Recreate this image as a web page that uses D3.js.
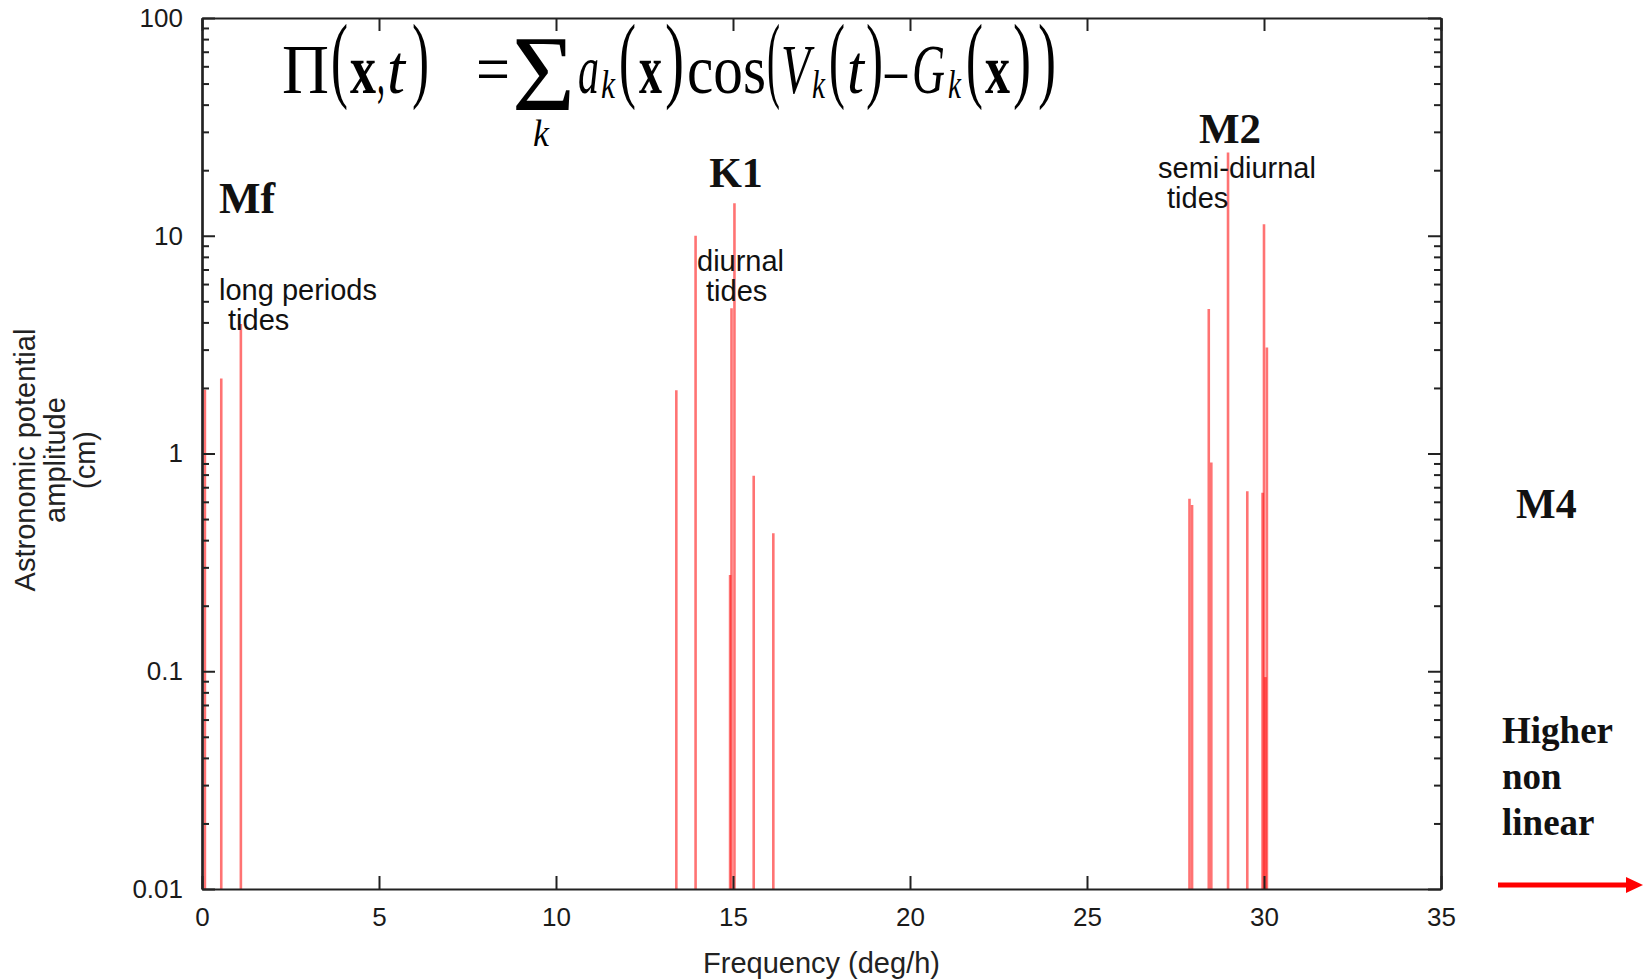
<!DOCTYPE html>
<html>
<head>
<meta charset="utf-8">
<script src="https://cdn.jsdelivr.net/npm/d3@7"></script>
<style>
  html, body { margin: 0; padding: 0; background: #fff; }
  svg { display: block; }
</style>
</head>
<body>
<svg id="chart" width="1651" height="979"></svg>
<script>
// ---------------- data ----------------
const constituents = ["Ssa","Mm","Mf","Q1","O1","π1","P1","K1","J1","OO1","2N2","μ2","N2","ν2","M2","L2","T2","S2","R2","K2"];
const frequencies  = [0.082, 0.544, 1.098, 13.399, 13.943, 14.918, 14.958, 15.041, 15.585, 16.139,
                      27.895, 27.968, 28.440, 28.512, 28.984, 29.528, 29.959, 30.000, 30.041, 30.082];
const amplitudes   = [1.96, 2.21, 3.93, 1.95, 10.0, 0.277, 4.64, 14.1, 0.79, 0.43,
                      0.62, 0.58, 4.61, 0.91, 24.1, 0.67, 0.66, 11.3, 0.094, 3.07];
const xTicks = [0, 5, 10, 15, 20, 25, 30, 35];
const yTicks = [0.01, 0.1, 1, 10, 100];
const yTickLabels = ["0.01", "0.1", "1", "10", "100"];
const xDomain = [0, 35];
const yDomain = [0.01, 100];

// ---------------- setup ----------------
const svg = d3.select("#chart");
const L = 202, R = 1441, T = 18, B = 889;
const x = d3.scaleLinear().domain(xDomain).range([L, R]);
const y = d3.scaleLog().domain(yDomain).range([B, T]);
const sans = "'Liberation Sans', Arial, Helvetica, sans-serif";
const serif = "'Liberation Serif', 'Times New Roman', serif";
const axisColor = "#222";

// minor ticks for log axis
const minor = [];
for (let d = 0.01; d < 100; d *= 10) for (let m = 2; m <= 9; m++) minor.push(+(d * m).toPrecision(3));

// ---------------- bars (impulses) ----------------
const data = frequencies.map((f, i) => ({ name: constituents[i], f, a: amplitudes[i] }));
svg.append("g").selectAll("line").data(data).join("line")
  .attr("x1", d => x(d.f)).attr("x2", d => x(d.f))
  .attr("y1", y(yDomain[0])).attr("y2", d => y(d.a))
  .attr("stroke", "#ff0000").attr("stroke-opacity", 0.55).attr("stroke-width", 2.6);

// ---------------- axes ----------------
function styleAxis(g) {
  g.selectAll("path.domain").attr("stroke", axisColor).attr("stroke-width", 2.2);
  g.selectAll(".tick line").attr("stroke", axisColor).attr("stroke-width", 2);
  g.selectAll(".tick text").attr("fill", "#1a1a1a").style("font-family", sans).style("font-size", "26px");
}
svg.append("g").attr("transform", `translate(0,${B})`)
  .call(d3.axisBottom(x).tickValues(xTicks).tickSize(-13).tickSizeOuter(0).tickPadding(19).tickFormat(d3.format("d")))
  .call(styleAxis);
svg.append("g").attr("transform", `translate(0,${T})`)
  .call(d3.axisTop(x).tickValues(xTicks).tickSize(-13).tickSizeOuter(0).tickFormat(""))
  .call(styleAxis);
svg.append("g").attr("transform", `translate(${L},0)`)
  .call(d3.axisLeft(y).tickValues(yTicks).tickSize(-13).tickSizeOuter(0).tickPadding(19)
    .tickFormat((d, i) => yTickLabels[i]))
  .call(styleAxis);
svg.append("g").attr("transform", `translate(${L},0)`)
  .call(d3.axisLeft(y).tickValues(minor).tickSize(-7).tickSizeOuter(0).tickFormat(""))
  .call(styleAxis);
svg.append("g").attr("transform", `translate(${R},0)`)
  .call(d3.axisRight(y).tickValues(yTicks).tickSize(-13).tickSizeOuter(0).tickFormat(""))
  .call(styleAxis);
svg.append("g").attr("transform", `translate(${R},0)`)
  .call(d3.axisRight(y).tickValues(minor).tickSize(-7).tickSizeOuter(0).tickFormat(""))
  .call(styleAxis);

// axis titles
svg.append("text").attr("x", (L + R) / 2).attr("y", 973).attr("text-anchor", "middle")
  .style("font-family", sans).style("font-size", "29px").attr("fill", "#222").text("Frequency (deg/h)");
const yTitle = ["Astronomic potential", "amplitude", "(cm)"];
const yTitleBase = [35, 65, 95];
yTitle.forEach((t, i) => {
  svg.append("text").attr("transform", `translate(${yTitleBase[i]},460) rotate(-90)`)
    .attr("text-anchor", "middle").style("font-family", sans).style("font-size", "29px")
    .attr("fill", "#222").text(t);
});

// ---------------- annotations ----------------
function txt(s, xx, yy, size, family, weight, anchor) {
  return svg.append("text").attr("x", xx).attr("y", yy).attr("text-anchor", anchor || "start")
    .style("font-family", family).style("font-size", size + "px").style("font-weight", weight || "normal")
    .attr("fill", "#111").text(s);
}
txt("Mf", 219, 213, 44, serif, "bold");
txt("K1", 736, 187, 42, serif, "bold", "middle");
txt("M2", 1199, 143, 43, serif, "bold");
txt("M4", 1516, 518, 42, serif, "bold");
txt("Higher", 1502, 743, 37, serif, "bold");
txt("non", 1502, 789, 37, serif, "bold");
txt("linear", 1502, 835, 37, serif, "bold");

txt("long periods", 219, 300, 29, sans);
txt("tides", 228, 330, 29, sans);
txt("diurnal", 697, 271, 29, sans);
txt("tides", 706, 301, 29, sans);
txt("semi-diurnal", 1158, 178, 29, sans);
txt("tides", 1167, 208, 29, sans);

// arrow
svg.append("line").attr("x1", 1498).attr("x2", 1630).attr("y1", 885).attr("y2", 885)
  .attr("stroke", "#ff0000").attr("stroke-width", 5);
svg.append("path").attr("d", "M1626,877 L1643,885 L1626,893 Z").attr("fill", "#ff0000");

// ---------------- formula (glyphs squeezed horizontally to fit) ----------------
// [text, left, right, kind]
const formula = [
  ["Π", 282, 329, "n"], ["(", 331, 348, "p"], ["x", 350, 376, "b"], [",", 377, 385, "n"], ["t", 387, 405, "i"], [")", 412, 429, "p"],
  ["=", 476, 510, "n"], ["Σ", 512, 575, "s"], ["k", 533, 549, "kb"],
  ["a", 578, 599, "i"], ["k", 601, 615, "k"], ["(", 619, 636, "p"], ["x", 639, 662, "b"], [")", 665, 684, "p"],
  ["cos", 687, 766, "n"], ["(", 767, 780, "p"], ["V", 781, 810, "i"], ["k", 812, 825, "k"],
  ["(", 829, 845, "p"], ["t", 847, 864, "i"], [")", 866, 883, "p"], ["–", 885, 907, "n"],
  ["G", 912, 945, "i"], ["k", 948, 961, "k"], ["(", 966, 983, "p"], ["x", 985, 1010, "b"], [")", 1013, 1031, "p"], [")", 1038, 1056, "p"]
];
const fg = svg.append("g").attr("fill", "#000");
formula.forEach(([s, x0, x1, kind]) => {
  let size = 70, base = 93, style = "normal", weight = "normal";
  if (kind === "b") weight = "bold";
  if (kind === "i") style = "italic";
  if (kind === "k") { size = 40; base = 98; style = "italic"; }
  if (kind === "kb") { size = 38; base = 146; style = "italic"; }
  if (kind === "p") { size = 96; base = 90; }
  if (kind === "s") { size = 108; base = 110; }
  const t = fg.append("text").attr("x", 0).attr("y", 0)
    .style("font-family", serif).style("font-size", size + "px")
    .style("font-style", style).style("font-weight", weight).text(s);
  const w = t.node().getComputedTextLength() || (x1 - x0);
  t.attr("transform", `translate(${x0},${base}) scale(${(x1 - x0) / w},1)`);
});
</script>
</body>
</html>
